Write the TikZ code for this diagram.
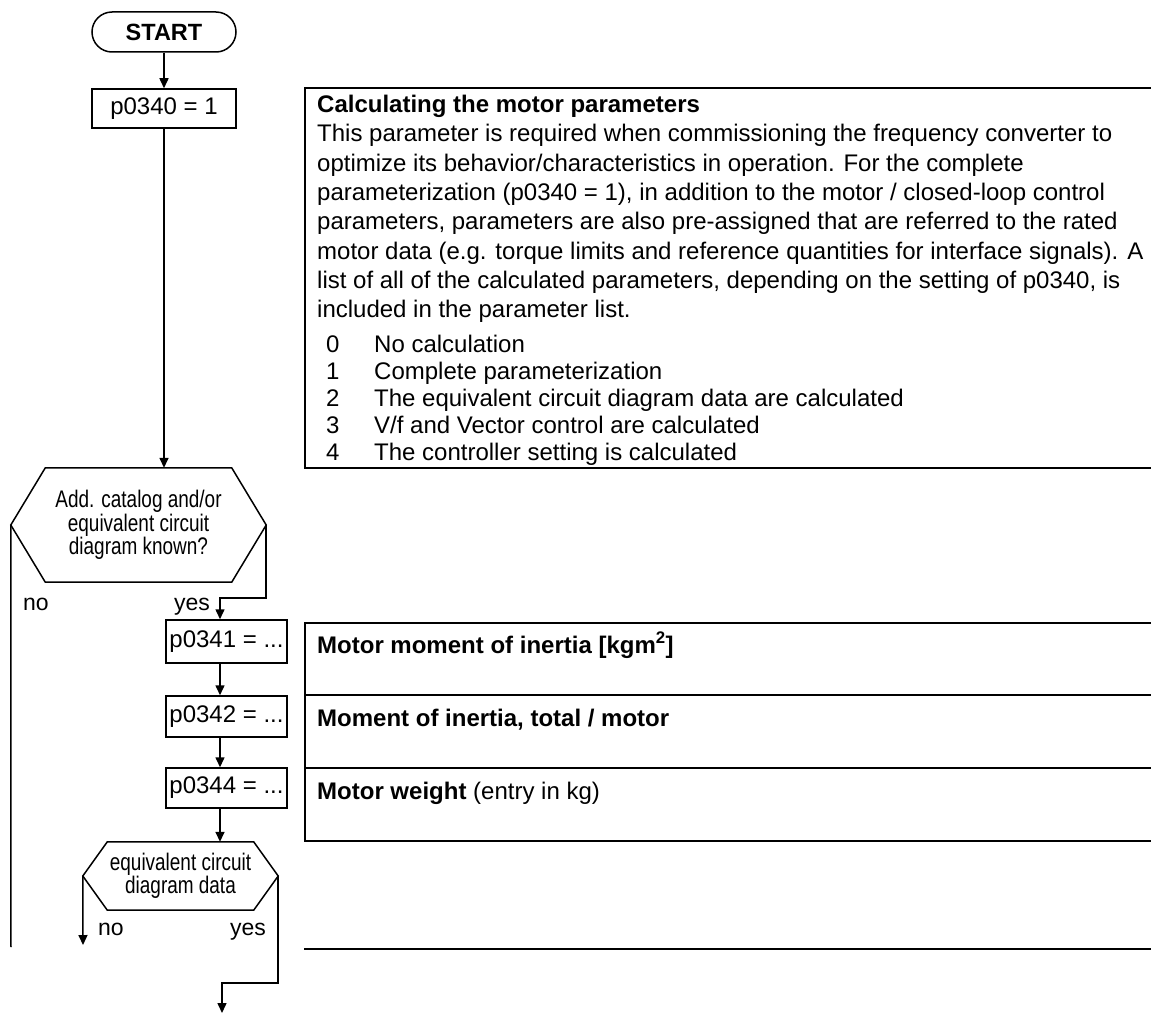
\documentclass[tikz,border=0pt]{standalone}
\usepackage{fontspec}
\setmainfont{Liberation Sans}
\newfontfamily\hexfont[FakeStretch=0.79]{Liberation Sans}
\usetikzlibrary{arrows.meta,calc}
\newcommand{\fbody}{\fontsize{24pt}{29.3pt}\selectfont}
\newcommand{\fhex}{\hexfont\fontsize{24pt}{23.5pt}\selectfont}
\newcommand{\flab}{\fontsize{23pt}{27pt}\selectfont}
\begin{document}
\begin{tikzpicture}[x=1pt,y=-1pt,
  flow/.style={line width=1.5pt},
  arr/.style={flow,-{Triangle[width=9pt,length=10pt]}},
  panel/.style={line width=2pt},
  box/.style={draw,line width=1.5pt,inner sep=0pt,font=\fbody},
  txt/.style={anchor=base west,inner sep=0pt,font=\fbody},
  lab/.style={anchor=base west,inner sep=0pt,font=\flab},
  hexshape/.style={inner sep=0pt,align=center,font=\fhex}
]
\useasboundingbox[fill=white] (0,0) rectangle (1151,1014);

% flowchart nodes
\node[box,rounded corners=20pt,minimum width=144pt,minimum height=40pt,font=\fontsize{23.5pt}{28pt}\selectfont\bfseries] (start) at (164,32) {START};
\node[box,minimum width=144pt,minimum height=39pt] (p0340) at (164,108.5) {p0340 = 1};
\node[hexshape,minimum width=255pt,minimum height=114pt] (hexA) at (138.5,525) {Add. catalog and/or\\equivalent circuit\\diagram known?};
\node[box,minimum width=121pt,minimum height=43pt] (p0341) at (226.5,641.5) {p0341 = ...};
\node[box,minimum width=121pt,minimum height=41pt] (p0342) at (226.5,716.5) {p0342 = ...};
\node[box,minimum width=121pt,minimum height=40pt] (p0344) at (226.5,788) {p0344 = ...};
\node[hexshape,minimum width=195pt,minimum height=68pt] (hexB) at (180.5,876) {equivalent circuit\\diagram data};

% hexagon outlines
\draw[flow,line join=miter] (hexA.west) -- ([xshift=34.5pt]hexA.north west) -- ([xshift=-34.5pt]hexA.north east) -- (hexA.east) -- ([xshift=-34.5pt]hexA.south east) -- ([xshift=34.5pt]hexA.south west) -- cycle;
\draw[flow,line join=miter] (hexB.west) -- ([xshift=24.5pt]hexB.north west) -- ([xshift=-24.5pt]hexB.north east) -- (hexB.east) -- ([xshift=-24.5pt]hexB.south east) -- ([xshift=24.5pt]hexB.south west) -- cycle;

% branch labels
\node[lab] (lnoA) at (23,610) {no};
\node[lab] (lyesA) at (174,610) {yes};
\node[lab] (lnoB) at (98,935) {no};
\node[lab] (lyesB) at (230,935) {yes};

% helper coordinates
\coordinate (yA) at (220,598);
\coordinate (noA) at (11,947);
\coordinate (noB) at (83,945);
\coordinate (yB) at (222,983);
\coordinate (endB) at (222,1013);

% connectors
\draw[arr] (start) -- (p0340);
\draw[arr] (p0340.south) -- (p0340.south |- hexA.north);
\draw[arr] (hexA.east) |- (yA) -- (yA |- p0341.north);
\draw[flow] (hexA.west) -- (noA);
\draw[arr] (yA |- p0341.south) -- (yA |- p0342.north);
\draw[arr] (yA |- p0342.south) -- (yA |- p0344.north);
\draw[arr] (yA |- p0344.south) -- (yA |- hexB.north);
\draw[arr] (hexB.west) -- (noB);
\draw[arr] (hexB.east) |- (yB) -- (endB);

% panel 1
\draw[panel] (1151,88) -- (305,88) -- (305,468) -- (1151,468);
\node[txt,font=\fbody\bfseries] (title) at (317,113) {Calculating the motor parameters};
\foreach \t [count=\i] in {
  {This parameter is required when commissioning the frequency converter to},
  {optimize its behavior/characteristics in operation. For the complete},
  {parameterization (p0340 = 1), in addition to the motor / closed-loop control},
  {parameters, parameters are also pre-assigned that are referred to the rated},
  {motor data (e.g. torque limits and reference quantities for interface signals). A},
  {list of all of the calculated parameters, depending on the setting of p0340, is},
  {included in the parameter list.}}
  {\node[txt] (body\i) at (317,{142+29.3*(\i-1)}) {\t};}
\node[txt] (n0) at (326,352) {0};
\node[txt] (l0) at (374,352) {No calculation};
\node[txt] (n1) at (326,379) {1};
\node[txt] (l1) at (374,379) {Complete parameterization};
\node[txt] (n2) at (326,406) {2};
\node[txt] (l2) at (374,406) {The equivalent circuit diagram data are calculated};
\node[txt] (n3) at (326,433) {3};
\node[txt] (l3) at (374,433) {V/f and Vector control are calculated};
\node[txt] (n4) at (326,460) {4};
\node[txt] (l4) at (374,460) {The controller setting is calculated};

% panel 2
\draw[panel] (1151,623) -- (305,623) -- (305,841) -- (1151,841);
\draw[panel] (305,695) -- (1151,695);
\draw[panel] (305,768) -- (1151,768);
\node[txt] (m1) at (317,653) {\bfseries Motor moment of inertia [kgm\textsuperscript{2}]};
\node[txt] (m2) at (317,726) {\bfseries Moment of inertia, total / motor};
\node[txt] (m3) at (317,799) {\textbf{Motor weight} (entry in kg)};

% bottom rule
\draw[panel] (304,949) -- (1151,949);
\end{tikzpicture}
\end{document}
